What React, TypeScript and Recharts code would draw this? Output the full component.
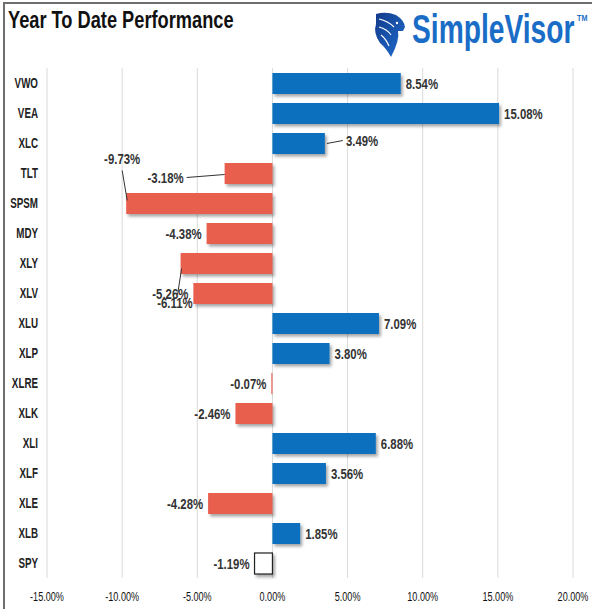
import { BarChart, Bar, XAxis, YAxis, CartesianGrid } from 'recharts';

const tickers = ['VWO', 'VEA', 'XLC', 'TLT', 'SPSM', 'MDY', 'XLY', 'XLV', 'XLU', 'XLP', 'XLRE', 'XLK', 'XLI', 'XLF', 'XLE', 'XLB', 'SPY'];
const ytdReturns = [8.54, 15.08, 3.49, -3.18, -9.73, -4.38, -6.11, -5.26, 7.09, 3.8, -0.07, -2.46, 6.88, 3.56, -4.28, 1.85, -1.19];
const axisTicks = [-15, -10, -5, 0, 5, 10, 15, 20];
const benchmark = 'SPY';

const data = tickers.map((name, i) => ({ name, value: ytdReturns[i] }));

const BLUE = '#0a70bf';
const RED = '#e85e4d';
const SANS = "'Liberation Sans', Arial, sans-serif";

// labels that were dragged off their bars, with a leader line back to the bar end
const movedLabels: Record<string, { dx: number; dy: number; line: [number, number, number, number] }> = {
  XLC: { dx: 21, dy: -3, line: [2, 0, 18, -3] },
  TLT: { dx: -41, dy: 4, line: [0, 1, -38, 4] },
  SPSM: { dx: 14, dy: -45, line: [1, -3, -4, -33] },
  XLY: { dx: 12, dy: 39, line: [1, 5, -3, 31] },
};

// the source image is squeezed sideways, so every text is drawn narrow
function NarrowText({ x, y, anchor, size, weight, fill, sx, children }: any) {
  return (
    <text
      transform={`translate(${x},${y}) scale(${sx},1)`}
      x={0}
      y={0}
      dy="0.35em"
      textAnchor={anchor}
      style={{ fontFamily: SANS, fontSize: size, fontWeight: weight, fill }}
    >
      {children}
    </text>
  );
}

function BarShape(props: any) {
  const { x, y, width, height, payload } = props;
  const left = Math.min(x, x + width);
  const w = Math.abs(width);
  const isBench = payload.name === benchmark;
  const fill = isBench ? '#fff' : payload.value >= 0 ? BLUE : RED;
  return (
    <rect
      x={left}
      y={y}
      width={w}
      height={height}
      fill={fill}
      stroke={isBench ? '#222' : 'none'}
      strokeWidth={isBench ? 1.2 : 0}
      filter="url(#barShadow)"
    />
  );
}

function ValueLabel(props: any) {
  const { x, y, width, height, value, index } = props;
  const name = tickers[index];
  const end = x + width;
  const cy = y + height / 2;
  const neg = value < 0;
  const moved = movedLabels[name];
  const text = `${Number(value).toFixed(2)}%`;
  const anchor = neg ? 'end' : 'start';
  if (moved) {
    const [ax, ay, bx, by] = moved.line;
    return (
      <g>
        <line x1={end + ax} y1={cy + ay} x2={end + bx} y2={cy + by} stroke="#333" strokeWidth={1} />
        <NarrowText x={end + moved.dx} y={cy + moved.dy} anchor={anchor} size={15} weight={700} fill="#333" sx={0.76}>
          {text}
        </NarrowText>
      </g>
    );
  }
  return (
    <NarrowText x={neg ? end - 5 : end + 5} y={cy} anchor={anchor} size={15} weight={700} fill="#333" sx={0.76}>
      {text}
    </NarrowText>
  );
}

function CategoryTick(props: any) {
  const { x, y, payload } = props;
  return (
    <NarrowText x={x} y={y} anchor="end" size={14} weight={700} fill="#222" sx={0.7}>
      {payload.value}
    </NarrowText>
  );
}

function PctTick(props: any) {
  const { x, y, payload } = props;
  return (
    <NarrowText x={x} y={y} anchor="middle" size={13} weight={400} fill="#111" sx={0.7}>
      {`${payload.value.toFixed(2)}%`}
    </NarrowText>
  );
}

export default function App() {
  return (
    <div style={{ position: 'absolute', left: 0, top: 0, width: 592, height: 609, background: '#fff', overflow: 'hidden' }}>
      <BarChart
        width={592}
        height={609}
        data={data}
        layout="vertical"
        margin={{ top: 68, right: 19, left: 7, bottom: 1 }}
        barSize={21}
      >
        <defs>
          <filter id="barShadow" x="-10%" y="-20%" width="130%" height="160%">
            <feDropShadow dx="2" dy="2.5" stdDeviation="1.4" floodColor="#000" floodOpacity="0.35" />
          </filter>
        </defs>
        <CartesianGrid horizontal={false} stroke="#dadada" />
        <XAxis
          type="number"
          domain={[-15, 20]}
          ticks={axisTicks}
          axisLine={false}
          tickLine={false}
          tickSize={0}
          tickMargin={18}
          height={30}
          tick={<PctTick />}
          interval={0}
        />
        <YAxis
          type="category"
          dataKey="name"
          width={40}
          axisLine={false}
          tickLine={false}
          tickSize={0}
          tickMargin={9}
          tick={<CategoryTick />}
          interval={0}
        />
        <Bar dataKey="value" isAnimationActive={false} shape={<BarShape />} label={<ValueLabel />} />
      </BarChart>
      <svg width={592} height={609} style={{ position: 'absolute', left: 0, top: 0, pointerEvents: 'none' }}>
        <defs>
          <linearGradient id="eagle" x1="0" y1="0" x2="1" y2="1">
            <stop offset="0%" stopColor="#123a8a" />
            <stop offset="100%" stopColor="#1f6fd0" />
          </linearGradient>
        </defs>
        <polyline points="4,609 4,3 592,3" fill="none" stroke="#6e6e6e" strokeWidth={2} />
        <text transform="translate(8,28) scale(0.76,1)" style={{ fontFamily: SANS, fontSize: 24, fontWeight: 700, fill: '#111' }}>
          Year To Date Performance
        </text>
        <path
          d="M376 14 Q386 11 396 15 Q404 20 405 27 L403 31 L398 31 Q400 40 391 57 Q386 48 380 43 Q373 33 376 24 Z"
          fill="url(#eagle)"
        />
        <path d="M379 19 Q388 21 394 27 M379 27 Q387 29 391 35 M381 35 Q386 39 389 46" stroke="#fff" strokeWidth={1.2} fill="none" />
        <circle cx={397} cy={23} r={1.2} fill="#fff" />
        <text transform="translate(412,43) scale(0.705,1)" style={{ fontFamily: SANS, fontSize: 40, fontWeight: 700, fill: '#1a6dc6' }}>
          SimpleVisor
        </text>
        <text transform="translate(577,21) scale(0.8,1)" style={{ fontFamily: SANS, fontSize: 9, fontWeight: 700, fill: '#1a6dc6' }}>
          TM
        </text>
      </svg>
    </div>
  );
}
